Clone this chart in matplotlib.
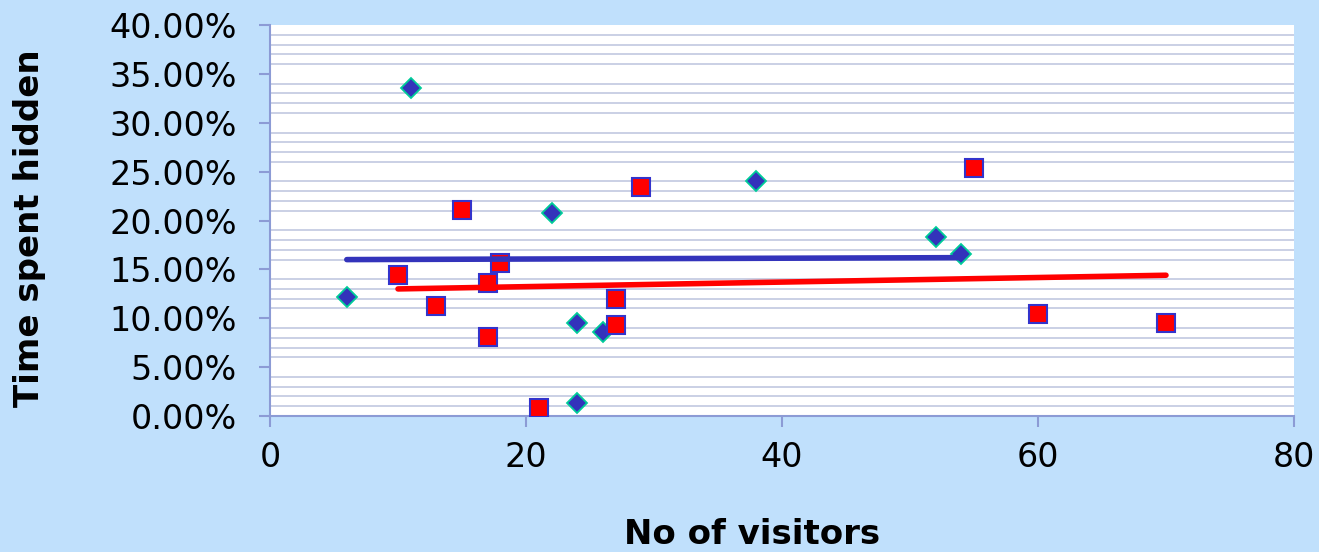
import matplotlib
matplotlib.use("Agg")
import matplotlib.pyplot as plt
import numpy as np
from matplotlib.ticker import PercentFormatter

# Series 1 (diamonds)
s1_x = [6, 11, 22, 24, 24, 26, 38, 52, 54]
s1_y = [12.2, 33.6, 20.8, 9.5, 1.3, 8.6, 24.0, 18.3, 16.6]
# Series 2 (squares)
s2_x = [10, 13, 15, 17, 17, 18, 21, 27, 27, 29, 55, 60, 70]
s2_y = [14.4, 11.3, 21.1, 13.6, 8.1, 15.7, 0.8, 12.0, 9.3, 23.4, 25.4, 10.4, 9.5]
# Trend lines
t1_x = [6, 54]
t1_y = [16.0, 16.2]
t2_x = [10, 70]
t2_y = [13.0, 14.4]

x_ticks = [0, 20, 40, 60, 80]
y_ticks = [0, 5, 10, 15, 20, 25, 30, 35, 40]

bg = "#C0E0FC"
fig = plt.figure(figsize=(13.19, 5.52), dpi=100, facecolor=bg)
ax = fig.add_axes([270/1319, 1-416/552, (1294-270)/1319, (416-25)/552])
ax.set_facecolor("white")
ax.set_xlim(0, 80)
ax.set_ylim(0, 40)

# minor gridlines each 1% except majors
for v in np.arange(1, 40, 1):
    if v % 5 != 0:
        ax.axhline(v, color="#BCC4DE", lw=1.1, zorder=0.5)

ax.plot(s1_x, s1_y, ls="none", marker="D", markersize=10, markerfacecolor="#3333BB",
        markeredgecolor="#00CC99", markeredgewidth=1.3, zorder=3)
ax.plot(s2_x, s2_y, ls="none", marker="s", markersize=13, markerfacecolor="#FF0000",
        markeredgecolor="#3333CC", markeredgewidth=1.5, zorder=3)
ax.plot(t1_x, t1_y, color="#3333BB", lw=4, solid_capstyle="round", zorder=4)
ax.plot(t2_x, t2_y, color="#FF0000", lw=4, solid_capstyle="round", zorder=4)

axc = "#8C9BD5"
for s in ["top", "right"]:
    ax.spines[s].set_visible(False)
for s in ["left", "bottom"]:
    ax.spines[s].set_color(axc)
    ax.spines[s].set_linewidth(1.5)

ax.set_xticks(x_ticks)
ax.set_yticks(y_ticks)
ax.yaxis.set_major_formatter(PercentFormatter(decimals=2))
ax.tick_params(axis="both", colors=axc, length=8, width=1.5, labelcolor="black", labelsize=24)
ax.tick_params(axis="y", pad=16)
ax.tick_params(axis="x", pad=10)

fig.text(752/1319, 1-535/552, "No of visitors", fontsize=24.5, fontweight="bold",
         ha="center", va="center")
fig.text(30/1319, 1-228/552, "Time spent hidden", fontsize=24.5, fontweight="bold",
         ha="center", va="center", rotation=90)

fig.savefig("out.png", dpi=100, facecolor=bg)
